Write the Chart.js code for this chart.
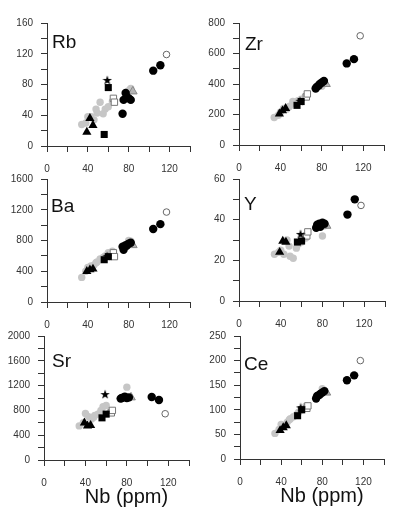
<!DOCTYPE html>
<html>
<head>
<meta charset="utf-8">
<script src="https://cdn.jsdelivr.net/npm/chart.js@4.4.1/dist/chart.umd.min.js"></script>
<style>
  body { margin: 0; background: #fff; width: 400px; height: 515px; position: relative; overflow: hidden; }
  canvas { position: absolute; }
</style>
</head>
<body>
<script>
// panels, in reading order
const elements = ['Rb', 'Zr', 'Ba', 'Y', 'Sr', 'Ce']
const yMax = [160, 800, 1600, 60, 2000, 250]
const yStep = [20, 100, 200, 10, 200, 25]
const yLabelEvery = [40, 200, 400, 20, 400, 50]
const nbTicks = [0, 40, 80, 120]

// each group: Nb values, then one row per element (same order as elements)
const grayNb = [34, 38, 40, 43, 46, 48, 49, 52, 55, 57, 60, 64, 80, 82]
const grayVals = [
    [28, 30, 38, 38, 34, 48, 43, 57, 42, 48, 51, 58, 72, 75],
    [180, 195, 215, 240, 235, 250, 255, 285, 270, 290, 300, 320, 385, 405],
    [320, 400, 450, 470, 480, 510, 520, 560, 580, 600, 640, 660, 800, 790],
    [23, 24, 25, 23, 30, 27, 22, 21, 26, 28, 29, 31, 32, 37],
    [550, 600, 750, 700, 660, 690, 720, 740, 800, 860, 880, 780, 1175, 1000],
    [52, 60, 70, 68, 75, 80, 82, 86, 90, 95, 100, 108, 143, 138],
]
const blackNb = [74, 75, 77, 78, 80, 82, 104, 111]
const blackVals = [
    [42, 60, 69, 64, 62, 60, 98, 105],
    [370, 380, 390, 400, 410, 420, 535, 563],
    [720, 680, 740, 730, 760, 770, 950, 1013],
    [36, 37.5, 38, 36.5, 38.5, 38, 42.5, 50],
    [990, 1000, 1010, 1020, 1000, 1010, 1015, 968],
    [123, 128, 130, 132, 135, 138, 160, 170],
]
const triNb = [39, 42, 45]
const triVals = [
    [18, 36, 27],
    [205, 225, 240],
    [400, 420, 430],
    [24, 29.5, 29],
    [600, 550, 560],
    [58, 64, 68],
]
const squareNb = [56, 60]
const squareVals = [
    [15, 76],
    [260, 285],
    [550, 590],
    [29, 29.5],
    [680, 740],
    [88, 100],
]
const openSquareNb = [65, 66]
const openSquareVals = [
    [62, 57],
    [315, 335],
    [640, 590],
    [32, 34],
    [760, 800],
    [103, 108],
]
const openCircleNb = [117]
const openCircleVals = [[119], [716], [1170], [47], [746], [200]]
const starNb = [59]
const starVals = [[86], [290], [600], [33], [1063], [105]]
const grayTriNb = [84]
const grayTriVals = [[71], [400], [740], [37], [1010], [135]]

// layout: data box of each panel [left, top, right, bottom] in page pixels
const panelBox = [
    [47, 21, 190, 146], [239, 21, 384, 145],
    [47, 177, 190, 302], [239, 177, 385, 301],
    [44, 334, 189, 460], [240, 334, 384, 459],
]
const titleDx = [5, 6, 4, 5, 8, 4]
const titleDy = [25, 27, 33, 31, 31, 34]
const Y_AXIS_W = 44
const PAD_T = 12
const PAD_R = 12
const FONT = '"Liberation Sans", Arial, sans-serif'
const AXIS_COLOR = '#333'

const starImg = (() => {
    const c = document.createElement('canvas')
    c.width = 10; c.height = 10
    const g = c.getContext('2d')
    g.fillStyle = '#000'
    g.beginPath()
    for (let k = 0; k < 10; k++) {
        const r = k % 2 ? 2 : 5
        const a = -Math.PI / 2 + k * Math.PI / 5
        g.lineTo(5 + r * Math.cos(a), 5.5 + r * Math.sin(a))
    }
    g.closePath()
    g.fill()
    return c
})()

const groups = [
    { nb: blackNb, vals: blackVals, pointStyle: 'circle', radius: 4.2, bg: '#000', border: '#000', bw: 0, order: 1 },
    { nb: starNb, vals: starVals, pointStyle: starImg, radius: 5, bg: '#000', border: '#000', bw: 0, order: 2 },
    { nb: squareNb, vals: squareVals, pointStyle: 'rect', radius: 5, bg: '#000', border: '#000', bw: 0, order: 3 },
    { nb: triNb, vals: triVals, pointStyle: 'triangle', radius: 5.3, bg: '#000', border: '#000', bw: 0, order: 4 },
    { nb: grayTriNb, vals: grayTriVals, pointStyle: 'triangle', radius: 5, bg: '#b4b4b4', border: '#888', bw: 1, order: 5 },
    { nb: openSquareNb, vals: openSquareVals, pointStyle: 'rect', radius: 4.5, bg: '#fff', border: '#777', bw: 1, order: 6 },
    { nb: openCircleNb, vals: openCircleVals, pointStyle: 'circle', radius: 3.3, bg: '#fff', border: '#666', bw: 1, order: 7 },
    { nb: grayNb, vals: grayVals, pointStyle: 'circle', radius: 3.7, bg: '#c6c6c6', border: '#c6c6c6', bw: 0, order: 8 },
]

const panelLabel = {
    id: 'panelLabel',
    afterDraw(chart, args, opts) {
        const { ctx, chartArea } = chart
        ctx.save()
        ctx.fillStyle = '#111'
        ctx.textBaseline = 'alphabetic'
        ctx.font = `19px ${FONT}`
        ctx.fillText(opts.text, chartArea.left + opts.dx, chartArea.top + opts.dy)
        if (opts.xTitle) {
            ctx.font = `20px ${FONT}`
            ctx.textAlign = 'center'
            ctx.fillText(opts.xTitle, (chartArea.left + chartArea.right) / 2 + 10, chartArea.bottom + 43)
        }
        ctx.restore()
    }
}

function makePanel(i) {
    const box = panelBox[i]
    const isBottom = i >= 4
    const xh = isBottom ? 55 : 26
    const canvas = document.createElement('canvas')
    canvas.width = box[2] - box[0] + Y_AXIS_W + PAD_R
    canvas.height = box[3] - box[1] + PAD_T + xh
    canvas.style.left = (box[0] - Y_AXIS_W) + 'px'
    canvas.style.top = (box[1] - PAD_T) + 'px'
    document.body.appendChild(canvas)

    const grid = { drawOnChartArea: false, drawTicks: true, tickLength: 6, color: AXIS_COLOR, lineWidth: 1 }
    const tickFont = { family: FONT, size: 10 }
    const datasets = groups.map(g => ({
        data: g.nb.map((x, j) => ({ x, y: g.vals[i][j] })),
        pointStyle: g.pointStyle,
        pointRadius: g.radius,
        backgroundColor: g.bg,
        borderColor: g.border,
        borderWidth: g.bw,
        order: g.order,
    }))

    new Chart(canvas, {
        type: 'scatter',
        data: { datasets },
        options: {
            responsive: false,
            maintainAspectRatio: false,
            animation: false,
            layout: { padding: { top: PAD_T, right: PAD_R, left: 0, bottom: 0 } },
            plugins: {
                legend: { display: false },
                tooltip: { enabled: false },
                panelLabel: { text: elements[i], dx: titleDx[i], dy: titleDy[i], xTitle: isBottom ? 'Nb (ppm)' : null },
            },
            scales: {
                x: {
                    type: 'linear', min: 0, max: 140,
                    ticks: {
                        stepSize: 20, autoSkip: false, maxRotation: 0, padding: 11,
                        color: '#333', font: tickFont,
                        callback: v => nbTicks.includes(v) ? v : '',
                    },
                    grid, border: { color: AXIS_COLOR, width: 1 },
                    afterFit: s => { s.height = xh },
                },
                y: {
                    type: 'linear', min: 0, max: yMax[i],
                    ticks: {
                        stepSize: yStep[i], autoSkip: false, padding: 8,
                        color: '#333', font: tickFont,
                        callback: v => v % yLabelEvery[i] === 0 ? v : '',
                    },
                    grid, border: { color: AXIS_COLOR, width: 1 },
                    afterFit: s => { s.width = Y_AXIS_W },
                },
            },
        },
        plugins: [panelLabel],
    })
}

elements.forEach((_, i) => makePanel(i))
</script>
</body>
</html>
